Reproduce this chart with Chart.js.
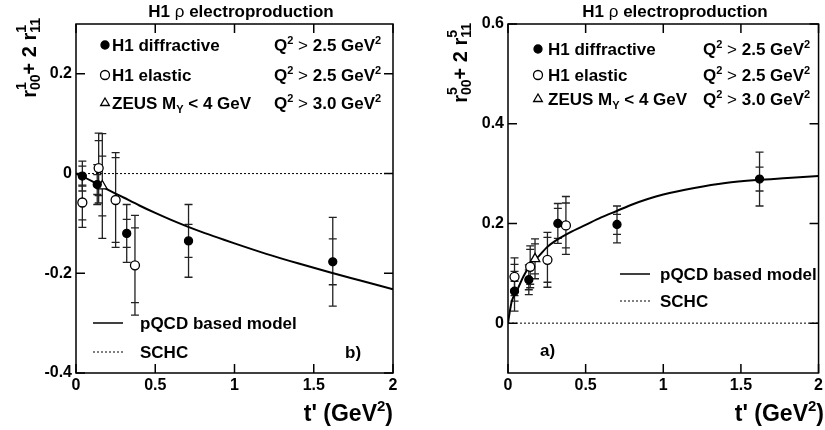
<!DOCTYPE html>
<html>
<head>
<meta charset="utf-8">
<script src="https://cdn.jsdelivr.net/npm/chart.js@4/dist/chart.umd.min.js"></script>
<style>
  html, body { margin: 0; padding: 0; background: #fff; overflow: hidden; }
  #wrap { position: relative; width: 825px; height: 430px; overflow: hidden; }
  canvas { position: absolute; top: 0; }
</style>
</head>
<body>
<div id="wrap">
  <canvas id="chartB" width="412" height="430" style="left:0px"></canvas>
  <canvas id="chartA" width="414" height="430" style="left:412px"></canvas>
</div>
<script>
// ---- data ----
// panel b) r^1_00 + 2 r^1_11
var bDiffT = [0.04, 0.134, 0.32, 0.71, 1.62];
var bDiffV = [-0.005, -0.022, -0.12, -0.135, -0.177];
var bDiffStat = [0.02, 0.02, 0.028, 0.033, 0.046];
var bDiffTot = [0.03, 0.04, 0.058, 0.073, 0.089];

var bElT = [0.04, 0.143, 0.25, 0.372];
var bElV = [-0.058, 0.011, -0.053, -0.184];
var bElStat = [0.035, 0.055, 0.085, 0.075];
var bElTot = [0.05, 0.07, 0.095, 0.1];

var bZeusT = [0.166];
var bZeusV = [-0.025];
var bZeusStat = [0.06];
var bZeusTot = [0.105];

var bModelT = [0, 0.05, 0.1, 0.2, 0.3, 0.4, 0.5, 0.6, 0.7, 0.8, 0.9, 1.0, 1.2, 1.4, 1.6, 1.8, 2.0];
var bModelV = [0, -0.007, -0.015, -0.032, -0.048, -0.064, -0.079, -0.093, -0.106, -0.118, -0.129, -0.14, -0.161, -0.18, -0.198, -0.215, -0.232];

// panel a) r^5_00 + 2 r^5_11
var aDiffT = [0.042, 0.134, 0.321, 0.702, 1.62];
var aDiffV = [0.064, 0.087, 0.2, 0.198, 0.289];
var aDiffStat = [0.02, 0.02, 0.03, 0.02, 0.024];
var aDiffTot = [0.04, 0.03, 0.04, 0.037, 0.054];

var aElT = [0.042, 0.143, 0.254, 0.373];
var aElV = [0.093, 0.113, 0.127, 0.196];
var aElStat = [0.025, 0.035, 0.045, 0.045];
var aElTot = [0.038, 0.042, 0.055, 0.058];

var aZeusT = [0.174];
var aZeusV = [0.129];
var aZeusStat = [0.03];
var aZeusTot = [0.04];

var aModelT = [0, 0.01, 0.025, 0.05, 0.1, 0.15, 0.2, 0.25, 0.3, 0.4, 0.5, 0.6, 0.7, 0.8, 0.9, 1.0, 1.2, 1.4, 1.6, 1.8, 2.0];
var aModelV = [0, 0.02, 0.045, 0.06, 0.094, 0.12, 0.135, 0.152, 0.164, 0.182, 0.197, 0.212, 0.225, 0.238, 0.249, 0.258, 0.271, 0.281, 0.287, 0.291, 0.295];

var schcT = [0, 2];
var schcV = [0, 0];

var xTicks = [0, 0.5, 1, 1.5, 2];
var bYTicks = [-0.4, -0.2, 0, 0.2];
var aYTicks = [0, 0.2, 0.4, 0.6];

var FONT = '"Liberation Sans", Arial, Helvetica, sans-serif';

function pts(xs, ys) {
    return xs.map(function (x, i) { return { x: x, y: ys[i] }; });
}

// draws a run of text pieces (super/subscripts), returns width
function richText(ctx, x, y, parts, align) {
    var w = 0;
    parts.forEach(function (p) {
        ctx.font = (p.w || 'bold') + ' ' + (p.s || 17) + 'px ' + FONT;
        p._w = ctx.measureText(p.t).width;
        if (p.adv !== false) w += p._w;
    });
    var cx = align === 'right' ? x - w : (align === 'center' ? x - w / 2 : x);
    ctx.textAlign = 'left';
    ctx.textBaseline = 'alphabetic';
    parts.forEach(function (p) {
        ctx.font = (p.w || 'bold') + ' ' + (p.s || 17) + 'px ' + FONT;
        ctx.fillText(p.t, cx, y + (p.dy || 0));
        if (p.adv !== false) cx += p._w;
    });
    return w;
}

function marker(ctx, kind, x, y) {
    ctx.save();
    ctx.lineWidth = 1.3;
    ctx.strokeStyle = '#000';
    ctx.beginPath();
    if (kind === 'tri') {
        var r = 5;
        ctx.moveTo(x, y - r);
        ctx.lineTo(x + r * 0.87, y + r * 0.5);
        ctx.lineTo(x - r * 0.87, y + r * 0.5);
        ctx.closePath();
        ctx.fillStyle = '#fff';
    } else {
        ctx.arc(x, y, kind === 'open' ? 4.5 : 4, 0, Math.PI * 2);
        ctx.fillStyle = kind === 'open' ? '#fff' : '#000';
    }
    ctx.fill();
    ctx.stroke();
    ctx.restore();
}

function q2(val) {
    return [
        { t: 'Q' }, { t: '2', s: 11, dy: -7 }, { t: ' > ', w: 'normal' },
        { t: val + ' GeV' }, { t: '2', s: 11, dy: -7 }
    ];
}

function makeChart(id, cfg) {
    var errorBars = {
        id: 'errorBars',
        beforeDatasetsDraw: function (chart) {
            var ctx = chart.ctx, xs = chart.scales.x, ys = chart.scales.y;
            ctx.save();
            ctx.strokeStyle = '#222';
            ctx.lineWidth = 1.3;
            cfg.errors.forEach(function (e) {
                e.t.forEach(function (t, i) {
                    var px = xs.getPixelForValue(t);
                    var lo = ys.getPixelForValue(e.v[i] - e.tot[i]);
                    var hi = ys.getPixelForValue(e.v[i] + e.tot[i]);
                    var slo = ys.getPixelForValue(e.v[i] - e.stat[i]);
                    var shi = ys.getPixelForValue(e.v[i] + e.stat[i]);
                    ctx.beginPath();
                    ctx.moveTo(px, lo); ctx.lineTo(px, hi);
                    [lo, hi, slo, shi].forEach(function (yy) {
                        ctx.moveTo(px - 4, yy); ctx.lineTo(px + 4, yy);
                    });
                    ctx.stroke();
                });
            });
            ctx.restore();
        }
    };

    var frame = {
        id: 'frame',
        afterDraw: function (chart) {
            var ctx = chart.ctx, a = chart.chartArea;
            var xs = chart.scales.x, ys = chart.scales.y;
            ctx.save();
            ctx.strokeStyle = '#000';
            ctx.lineWidth = 1.5;
            ctx.strokeRect(a.left, a.top, a.right - a.left, a.bottom - a.top);
            ctx.beginPath();
            xTicks.forEach(function (t) {
                var px = xs.getPixelForValue(t);
                ctx.moveTo(px, a.bottom); ctx.lineTo(px, a.bottom - 9);
                ctx.moveTo(px, a.top); ctx.lineTo(px, a.top + 9);
            });
            cfg.yTicks.forEach(function (v) {
                var py = ys.getPixelForValue(v);
                ctx.moveTo(a.left, py); ctx.lineTo(a.left + 9, py);
                ctx.moveTo(a.right, py); ctx.lineTo(a.right - 9, py);
            });
            ctx.stroke();
            ctx.restore();
            cfg.texts(ctx);
        }
    };

    return new Chart(document.getElementById(id), {
        type: 'scatter',
        data: {
            datasets: [
                {
                    label: 'H1 diffractive',
                    data: pts(cfg.diffT, cfg.diffV),
                    pointStyle: 'circle', pointRadius: 4,
                    backgroundColor: '#000', borderColor: '#000', borderWidth: 1.3
                },
                {
                    label: 'H1 elastic',
                    data: pts(cfg.elT, cfg.elV),
                    pointStyle: 'circle', pointRadius: 4.5,
                    backgroundColor: '#fff', borderColor: '#000', borderWidth: 1.3
                },
                {
                    label: 'ZEUS',
                    data: pts(cfg.zeusT, cfg.zeusV),
                    pointStyle: 'triangle', pointRadius: 5.5,
                    backgroundColor: '#fff', borderColor: '#000', borderWidth: 1.3
                },
                {
                    label: 'pQCD based model',
                    type: 'line',
                    data: pts(cfg.modelT, cfg.modelV),
                    borderColor: '#000', borderWidth: 2,
                    pointRadius: 0, fill: false,
                    cubicInterpolationMode: 'monotone'
                },
                {
                    label: 'SCHC',
                    type: 'line',
                    data: pts(schcT, schcV),
                    borderColor: '#000', borderWidth: 1,
                    borderDash: [2, 2],
                    pointRadius: 0, fill: false
                }
            ]
        },
        options: {
            responsive: false,
            animation: false,
            layout: { padding: cfg.padding },
            plugins: { legend: { display: false }, tooltip: { enabled: false }, title: { display: false } },
            scales: {
                x: {
                    type: 'linear', min: 0, max: 2,
                    grid: { display: false, drawTicks: false },
                    border: { display: false },
                    afterBuildTicks: function (s) { s.ticks = xTicks.map(function (v) { return { value: v }; }); },
                    afterFit: function (s) { s.height = 57; },
                    ticks: {
                        color: '#000', padding: 3, maxRotation: 0, autoSkip: false,
                        font: { family: FONT, size: 16, weight: 'bold' },
                        callback: function (v) { return String(v); }
                    }
                },
                y: {
                    type: 'linear', min: cfg.yMin, max: cfg.yMax,
                    grid: { display: false, drawTicks: false },
                    border: { display: false },
                    afterBuildTicks: function (s) { s.ticks = cfg.yTicks.map(function (v) { return { value: v }; }); },
                    afterFit: function (s) { s.width = cfg.yWidth; },
                    ticks: {
                        color: '#000', padding: 4, autoSkip: false,
                        font: { family: FONT, size: 16, weight: 'bold' },
                        callback: function (v) { return String(Math.round(v * 10) / 10); }
                    }
                }
            }
        },
        plugins: [errorBars, frame]
    });
}

function yTitle(ctx, x, yTop, idx) {
    ctx.save();
    ctx.translate(x, yTop);
    ctx.rotate(-Math.PI / 2);
    ctx.fillStyle = '#000';
    var parts = [
        { t: 'r', s: 20 }, { t: idx, s: 14, dy: -10, adv: false }, { t: '00', s: 14, dy: 4 },
        { t: '+ 2 r', s: 20 }, { t: idx, s: 14, dy: -10, adv: false }, { t: '11', s: 14, dy: 4 }
    ];
    richText(ctx, 0, 0, parts, 'right');
    ctx.restore();
}

function topLegend(ctx, mx, tx, qx, rows) {
    ctx.fillStyle = '#000';
    marker(ctx, 'filled', mx, rows[0] - 6);
    richText(ctx, tx, rows[0], [{ t: 'H1 diffractive' }], 'left');
    richText(ctx, qx, rows[0], q2('2.5'), 'left');
    marker(ctx, 'open', mx, rows[1] - 6);
    richText(ctx, tx, rows[1], [{ t: 'H1 elastic' }], 'left');
    richText(ctx, qx, rows[1], q2('2.5'), 'left');
    marker(ctx, 'tri', mx, rows[2] - 6);
    richText(ctx, tx, rows[2], [{ t: 'ZEUS M' }, { t: 'Y', s: 11, dy: 4 }, { t: ' < 4 GeV', w: 'bold' }], 'left');
    richText(ctx, qx, rows[2], q2('3.0'), 'left');
}

function bottomLegend(ctx, lx, tx, y1, y2) {
    ctx.save();
    ctx.strokeStyle = '#000';
    ctx.lineWidth = 1.5;
    ctx.beginPath(); ctx.moveTo(lx, y1); ctx.lineTo(lx + 30, y1); ctx.stroke();
    ctx.lineWidth = 1;
    ctx.setLineDash([2, 2]);
    ctx.beginPath(); ctx.moveTo(lx, y2); ctx.lineTo(lx + 30, y2); ctx.stroke();
    ctx.restore();
    ctx.fillStyle = '#000';
    richText(ctx, tx, y1 + 6, [{ t: 'pQCD based model' }], 'left');
    richText(ctx, tx, y2 + 6, [{ t: 'SCHC' }], 'left');
}

function header(ctx, cx) {
    ctx.fillStyle = '#000';
    richText(ctx, cx, 17, [{ t: 'H1 ' }, { t: 'ρ', w: 'normal' }, { t: ' electroproduction' }], 'center');
}

function xTitle(ctx, xr) {
    ctx.fillStyle = '#000';
    richText(ctx, xr, 421, [{ t: "t' (GeV", s: 23 }, { t: '2', s: 15, dy: -10 }, { t: ')', s: 23 }], 'right');
}

window.onload = function () {
    makeChart('chartB', {
        diffT: bDiffT, diffV: bDiffV, elT: bElT, elV: bElV,
        zeusT: bZeusT, zeusV: bZeusV, modelT: bModelT, modelV: bModelV,
        yMin: -0.4, yMax: 0.3, yTicks: bYTicks, yWidth: 76,
        padding: { left: 0, right: 19, top: 24, bottom: 0 },
        errors: [
            { t: bDiffT, v: bDiffV, stat: bDiffStat, tot: bDiffTot },
            { t: bElT, v: bElV, stat: bElStat, tot: bElTot },
            { t: bZeusT, v: bZeusV, stat: bZeusStat, tot: bZeusTot }
        ],
        texts: function (ctx) {
            header(ctx, 241);
            yTitle(ctx, 36, 18, '1');
            xTitle(ctx, 393);
            topLegend(ctx, 105, 112, 274, [51, 81, 109]);
            bottomLegend(ctx, 93, 140, 323, 352);
            richText(ctx, 345, 358, [{ t: 'b)' }], 'left');
        }
    });

    makeChart('chartA', {
        diffT: aDiffT, diffV: aDiffV, elT: aElT, elV: aElV,
        zeusT: aZeusT, zeusV: aZeusV, modelT: aModelT, modelV: aModelV,
        yMin: -0.1, yMax: 0.6, yTicks: aYTicks, yWidth: 96,
        padding: { left: 0, right: 0, top: 24, bottom: 0 },
        errors: [
            { t: aDiffT, v: aDiffV, stat: aDiffStat, tot: aDiffTot },
            { t: aElT, v: aElV, stat: aElStat, tot: aElTot },
            { t: aZeusT, v: aZeusV, stat: aZeusStat, tot: aZeusTot }
        ],
        texts: function (ctx) {
            header(ctx, 263);
            yTitle(ctx, 55, 23, '5');
            xTitle(ctx, 412);
            topLegend(ctx, 126, 136, 291, [55, 81, 105]);
            bottomLegend(ctx, 208, 248, 274, 301);
            richText(ctx, 128, 356, [{ t: 'a)' }], 'left');
        }
    });
};
</script>
</body>
</html>
